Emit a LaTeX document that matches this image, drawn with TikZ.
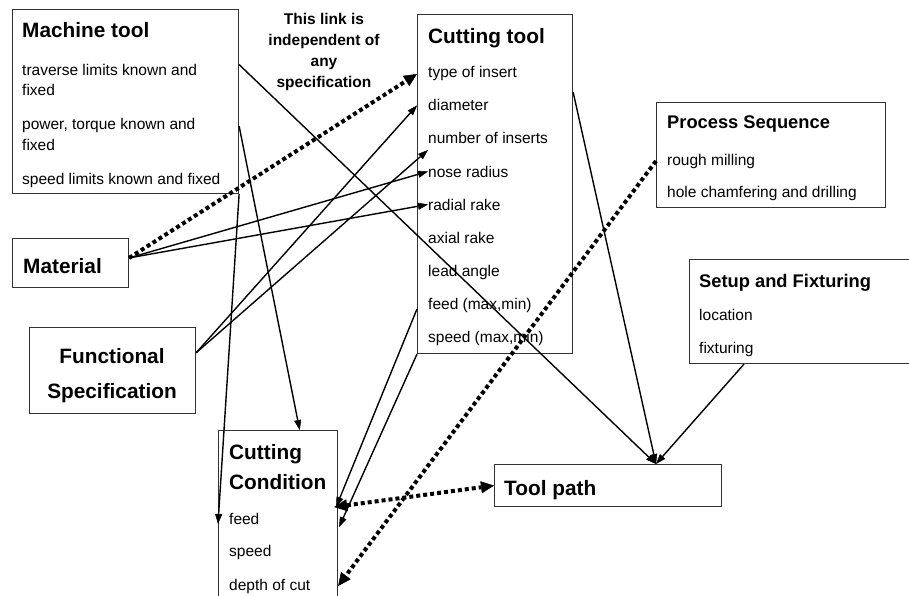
\documentclass[tikz,border=0pt]{standalone}
\usepackage{fontspec}
\setmainfont{Liberation Sans}
\usetikzlibrary{arrows.meta,calc}
\tikzset{
  box/.style={draw=black!80, line width=1.1pt, anchor=north west, inner sep=0pt},
  ttl/.style={font=\fontsize{20.8}{24}\selectfont\bfseries, anchor=base west, inner sep=0pt},
  sttl/.style={ttl, font=\fontsize{18.3}{22}\selectfont\bfseries},
  item/.style={font=\fontsize{15.5}{20}\selectfont, anchor=base west, inner sep=0pt},
  link/.style={line width=1.4pt, -{Triangle[length=10pt,width=7pt,line width=0.5pt]}},
  dotlink/.style={line width=4pt, dash pattern=on 4pt off 3pt, -{Triangle[length=13pt,width=12pt,line width=0.5pt]}},
  dotboth/.style={dotlink, {Triangle[length=13pt,width=12pt,line width=0.5pt]}-{Triangle[length=13pt,width=12pt,line width=0.5pt]}},
}
\begin{document}
\begin{tikzpicture}[x=1pt, y=-1pt]
	\useasboundingbox (0,0) rectangle (909,596);
	\clip (0,0) rectangle (909,596);
	% boxes
	\node[box, minimum width=226pt, minimum height=184pt] (mt) at (12,9) {};
	\node[box, minimum width=155pt, minimum height=339pt] (ct) at (417,14) {};
	\node[box, minimum width=229pt, minimum height=105pt] (ps) at (656,102) {};
	\node[box, minimum width=240pt, minimum height=104pt] (sf) at (689,259) {};
	\node[box, minimum width=227pt, minimum height=42pt] (tp) at (494,464) {};
	\node[box, minimum width=116pt, minimum height=49pt] (mat) at (12,238) {};
	\node[box, minimum width=166pt, minimum height=86pt] (fs) at (29,327) {};
	\node[box, minimum width=119pt, minimum height=190pt] (cc) at (218,430) {};
	% machine tool
	\node[ttl] (mt-title) at (22,38) {Machine tool};
	\node[item] (mt-trav) at (22,76) {traverse limits known and};
	\node[item] (mt-trav2) at (22,96) {fixed};
	\node[item] (mt-power) at (22,130) {power, torque known and};
	\node[item] (mt-power2) at (22,150) {fixed};
	\node[item] (mt-speed) at (22,185) {speed limits known and fixed};
	\node[font=\fontsize{15.5}{21}\selectfont\bfseries, align=center, anchor=north, inner sep=0pt] (note) at (324,12.7) {This link is\\independent of\\any\\specification};
	% cutting tool
	\node[ttl] (ct-title) at (428,44) {Cutting tool};
	\node[item] (ct-type) at (428,78) {type of insert};
	\node[item] (ct-diam) at (428,111) {diameter};
	\node[item] (ct-num) at (428,144) {number of inserts};
	\node[item] (ct-nose) at (428,177) {nose radius};
	\node[item] (ct-radial) at (428,210) {radial rake};
	\node[item] (ct-axial) at (428,243) {axial rake};
	\node[item] (ct-lead) at (428,276) {lead angle};
	\node[item] (ct-feed) at (428,309) {feed (max,min)};
	\node[item] (ct-speed) at (428,342) {speed (max,min)};
	% process, setup, tool path
	\node[sttl] (ps-title) at (667,129) {Process Sequence};
	\node[item] (ps-rough) at (667,165) {rough milling};
	\node[item] (ps-hole) at (667,197) {hole chamfering and drilling};
	\node[sttl] (sf-title) at (699,287) {Setup and Fixturing};
	\node[item] (sf-loc) at (699,320) {location};
	\node[item] (sf-fix) at (699,353) {fixturing};
	\node[ttl] (tp-title) at (504,495) {Tool path};
	% material, spec, condition
	\node[ttl] (mat-title) at (23,273) {Material};
	\node[ttl, anchor=base] (fs-title) at (112,363) {Functional};
	\node[ttl, anchor=base] (fs-title2) at (112,398) {Specification};
	\node[ttl] (cc-title) at (229,459) {Cutting};
	\node[ttl] (cc-title2) at (229,489) {Condition};
	\node[item] (cc-feed) at (229,524) {feed};
	\node[item] (cc-speed) at (229,556) {speed};
	\node[item] (cc-depth) at (229,590) {depth of cut};
	% links
	\coordinate (tp-in) at ($(tp.north west)!0.71!(tp.north east)$);
	\draw[dotlink] (mat.5) -- (ct.west |- ct-type.west);
	\draw[link] (mat.5) -- (ct-nose.west);
	\draw[link] (mat.5) -- (ct-radial.west);
	\draw[link] (fs.12) -- (ct.west |- ct-diam.west);
	\draw[link] (fs.12) -- ($(ct-num.base west)+(0,6)$);
	\draw[link] (mt.east |- mt-trav.north) -- (tp-in);
	\draw[link] (mt.east |- mt-power.west) -- ($(cc.north west)!0.68!(cc.north east)$);
	\draw[link] (mt.south east) -- (cc.west |- cc-feed.base);
	\draw[link] ($(ct.north east)+(0,78)$) -- (tp-in);
	\draw[link] (ct.west |- ct-feed.base) -- ($(cc.north east)+(-2,77)$);
	\draw[link] (ct.south west) -- ($(cc.north east)+(1,97)$);
	\draw[dotlink] (ps.west |- ps-rough.west) -- (cc.east |- cc-depth.west);
	\draw[dotboth] ($(cc.north east)+(-4,77)$) -- (tp.west);
	\draw[link] ($(sf.south west)+(55,0)$) -- (tp-in);
\end{tikzpicture}
\end{document}
